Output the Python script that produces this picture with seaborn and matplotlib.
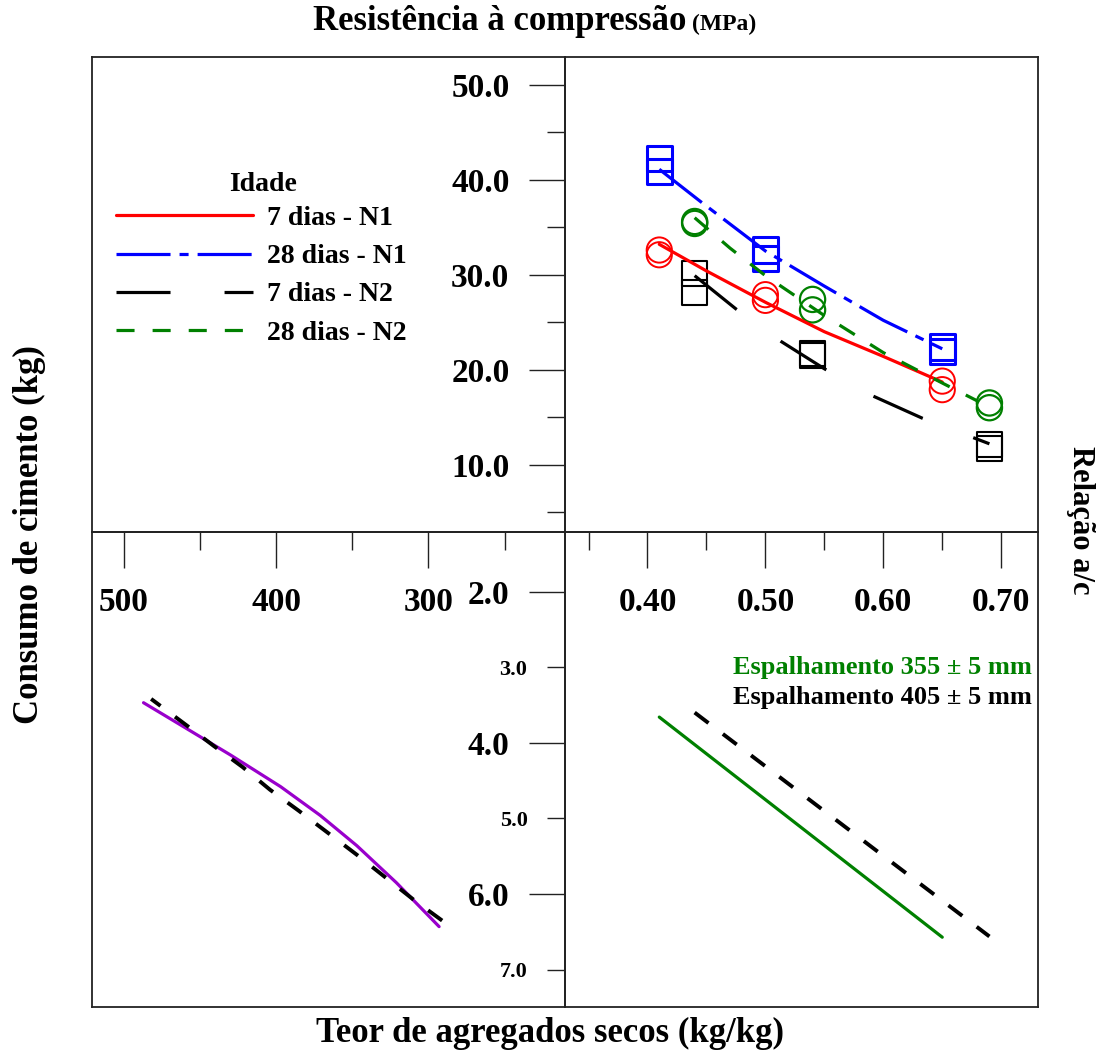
import numpy as np
import pandas as pd
import matplotlib.pyplot as plt
import seaborn as sns

# ensaios: resistencia (MPa) x relacao a/c
ac_n1 = [0.41, 0.41, 0.50, 0.50, 0.65, 0.65]
fc7_n1 = [32.6, 32.1, 27.9, 27.3, 18.8, 17.9]
fc28_n1 = [42.2, 40.9, 32.6, 31.7, 22.4, 21.9]
ac_n2 = [0.44, 0.44, 0.54, 0.54, 0.69, 0.69]
fc7_n2 = [30.1, 28.1, 21.7, 21.5, 12.1, 11.7]
fc28_n2 = [35.6, 35.4, 27.4, 26.3, 16.5, 16.0]

# curvas de Abrams
ac_c7_n1 = [0.41, 0.45, 0.50, 0.55, 0.60, 0.65]
fc_c7_n1 = [33.2, 30.4, 27.1, 24.0, 21.4, 18.7]
ac_c28_n1 = [0.41, 0.445, 0.50, 0.55, 0.60, 0.65]
fc_c28_n1 = [41.1, 37.7, 32.5, 28.8, 25.2, 22.2]
ac_c7_n2 = [0.44, 0.475, 0.513, 0.55, 0.59, 0.633, 0.69]
fc_c7_n2 = [29.9, 26.4, 23.0, 20.1, 17.3, 14.9, 12.2]
ac_c28_n2 = [0.44, 0.47, 0.50, 0.55, 0.60, 0.65, 0.68]
fc_c28_n2 = [36.0, 32.8, 29.9, 25.7, 21.8, 18.6, 16.7]

# consumo de cimento x m
cc_n1 = [487, 463, 430, 397, 371, 347, 321, 293]
m_cc_n1 = [3.47, 3.76, 4.16, 4.58, 4.96, 5.36, 5.85, 6.43]
cc_n2 = [482, 460, 441, 422, 404, 385, 347, 310, 291]
m_cc_n2 = [3.42, 3.75, 4.04, 4.32, 4.62, 4.90, 5.48, 6.07, 6.35]

# m x a/c
ac_m_n1 = [0.41, 0.65]
m_n1 = [3.66, 6.57]
ac_m_n2 = [0.44, 0.69]
m_n2 = [3.60, 6.56]

labels_idade = ['7 dias - N1', '28 dias - N1', '7 dias - N2', '28 dias - N2']

sns.set_style('white')
plt.rcParams['font.family'] = ['Liberation Serif', 'DejaVu Serif']
plt.rcParams['font.weight'] = 'bold'
plt.rcParams['text.color'] = 'black'
plt.rcParams['xtick.color'] = 'black'
plt.rcParams['ytick.color'] = 'black'
plt.rcParams['lines.scale_dashes'] = False
plt.rcParams['axes.edgecolor'] = '#222222'
plt.rcParams['axes.linewidth'] = 1.3

fig = plt.figure(figsize=(10.97, 10.52), dpi=100)
L, M, R = 0.0843, 0.5150, 0.9460
B, H, T = 0.04325, 0.4946, 0.9461
ax_tl = fig.add_axes([L, H, M - L, T - H])
ax_tr = fig.add_axes([M, H, R - M, T - H])
ax_bl = fig.add_axes([L, B, M - L, H - B])
ax_br = fig.add_axes([M, B, R - M, H - B])
for ax in [ax_tl, ax_tr, ax_bl, ax_br]:
    ax.patch.set_visible(False)

# quadrante superior direito: resistencia x a/c
lw = 2.3
sns.lineplot(x=ac_c7_n1, y=fc_c7_n1, ax=ax_tr, color='#ff0000', lw=lw, estimator=None,
             errorbar=None, legend=False, label=labels_idade[0])
sns.lineplot(x=ac_c28_n1, y=fc_c28_n1, ax=ax_tr, color='#0000ff', lw=lw, estimator=None,
             errorbar=None, legend=False, label=labels_idade[1],
             linestyle=(0, (38.9, 6.5, 6.5, 6.5)))
sns.lineplot(x=ac_c7_n2, y=fc_c7_n2, ax=ax_tr, color='black', lw=lw, estimator=None,
             errorbar=None, legend=False, label=labels_idade[2],
             linestyle=(0, (38.9, 38.9)))
sns.lineplot(x=ac_c28_n2, y=fc_c28_n2, ax=ax_tr, color='#008000', lw=lw, estimator=None,
             errorbar=None, legend=False, label=labels_idade[3],
             linestyle=(0, (13, 13)))

s = 330
sns.scatterplot(x=ac_n1, y=fc7_n1, ax=ax_tr, marker='o', s=s, color='none',
                edgecolor='#ff0000', linewidth=1.4, legend=False)
sns.scatterplot(x=ac_n1, y=fc28_n1, ax=ax_tr, marker='s', s=s, color='none',
                edgecolor='#0000ff', linewidth=2.2, legend=False)
sns.scatterplot(x=ac_n2, y=fc7_n2, ax=ax_tr, marker='s', s=s, color='none',
                edgecolor='black', linewidth=1.5, legend=False)
sns.scatterplot(x=ac_n2, y=fc28_n2, ax=ax_tr, marker='o', s=s, color='none',
                edgecolor='#008000', linewidth=1.6, legend=False)

ax_tr.set_xlim(0.330, 0.731)
ax_tr.set_ylim(2.95, 52.95)
ax_tr.set_xticks([0.40, 0.50, 0.60, 0.70], ['0.40', '0.50', '0.60', '0.70'])
ax_tr.set_xticks([0.35, 0.45, 0.55, 0.65], minor=True)
ax_tr.set_yticks([10, 20, 30, 40, 50], ['10.0', '20.0', '30.0', '40.0', '50.0'])
ax_tr.set_yticks([5, 15, 25, 35, 45], minor=True)

# quadrante inferior esquerdo: consumo x m
sns.lineplot(x=cc_n1, y=m_cc_n1, ax=ax_bl, color='#9900cc', lw=2.3, estimator=None,
             errorbar=None, legend=False)
sns.lineplot(x=cc_n2, y=m_cc_n2, ax=ax_bl, color='black', lw=2.8, estimator=None,
             errorbar=None, legend=False, linestyle=(0, (12.5, 13)))
ax_bl.set_xlim(520.5, 210.4)
ax_bl.set_ylim(7.486, 1.209)
ax_bl.set_xticks([])
ax_bl.set_yticks([])

# quadrante inferior direito: m x a/c
sns.lineplot(x=ac_m_n1, y=m_n1, ax=ax_br, color='#008000', lw=2.3, estimator=None,
             errorbar=None, legend=False)
sns.lineplot(x=ac_m_n2, y=m_n2, ax=ax_br, color='black', lw=2.8, estimator=None,
             errorbar=None, legend=False, linestyle=(0, (12.5, 13)))
ax_br.set_xlim(0.330, 0.731)
ax_br.set_ylim(7.486, 1.209)
ax_br.set_xticks([])
ax_br.set_yticks([2, 4, 6], ['2.0', '4.0', '6.0'])
ax_br.set_yticks([3, 5, 7], ['3.0', '5.0', '7.0'], minor=True)
ax_br.text(0.987, 0.715, 'Espalhamento 355 \u00b1 5 mm', color='#008000', fontsize=19,
           ha='right', va='center', transform=ax_br.transAxes)
ax_br.text(0.987, 0.650, 'Espalhamento 405 \u00b1 5 mm', color='black', fontsize=19,
           ha='right', va='center', transform=ax_br.transAxes)

# quadrante superior esquerdo: eixo do consumo + legenda
ax_tl.set_xlim(520.5, 210.4)
ax_tl.set_xticks([500, 400, 300], ['500', '400', '300'])
ax_tl.set_xticks([450, 350, 250], minor=True)
ax_tl.set_yticks([])

for ax in [ax_tl, ax_tr, ax_bl, ax_br]:
    ax.set_xlabel('')
    ax.set_ylabel('')
    ax.tick_params(which='major', direction='out', length=26, width=1.0, pad=14,
                   labelsize=24, color='#222222')
    ax.tick_params(which='minor', direction='out', length=13, width=1.0, pad=14,
                   labelsize=16, color='#222222')
    ax.tick_params(which='both', top=False, right=False, bottom=True, left=True)

ax_bl.tick_params(which='both', bottom=False, left=False)
ax_br.tick_params(which='both', bottom=False)
ax_tl.tick_params(which='both', left=False)

handles, labels = ax_tr.get_legend_handles_labels()
leg = ax_tl.legend(handles, labels, loc='upper left',
                   bbox_to_anchor=(0.0497, 0.6866), frameon=False, fontsize=20,
                   handlelength=4.95, handletextpad=0.5,
                   labelspacing=0.46, borderpad=0, borderaxespad=0)
ax_tl.text(0.361, 0.7173, 'Idade', fontsize=20, ha='center', va='baseline',
           transform=ax_tl.transAxes)

# titulos dos eixos
fig.text(686 / 1097, 1 - 30 / 1052, 'Resistência à compressão', fontsize=25,
         ha='right', va='baseline')
fig.text(692 / 1097, 1 - 30 / 1052, '(MPa)', fontsize=17, ha='left', va='baseline')
fig.text(550 / 1097, 1 - 1042 / 1052, 'Teor de agregados secos (kg/kg)', fontsize=25,
         ha='center', va='baseline')
fig.text(29 / 1097, 1 - 535 / 1052, 'Consumo de cimento (kg)', fontsize=25,
         rotation=90, ha='center', va='center')
fig.text(1080 / 1097, 1 - 520 / 1052, 'Relação a/c', fontsize=22,
         rotation=270, ha='center', va='center')

fig.savefig('out.png', dpi=100, facecolor='white')
